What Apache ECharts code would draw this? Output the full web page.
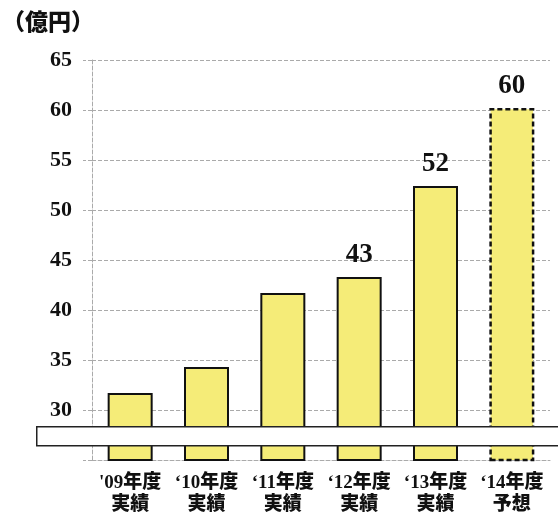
<!DOCTYPE html>
<html>
<head>
<meta charset="utf-8">
<script src="https://cdn.jsdelivr.net/npm/echarts@6/dist/echarts.min.js"></script>
<style>html,body{margin:0;padding:0;background:#fff}#c{width:558px;height:514px}</style>
</head>
<body>
<div id="c"></div>
<script>
var categories = ["'09年度\n実績", "‘10年度\n実績", "‘11年度\n実績", "‘12年度\n実績", "‘13年度\n実績", "‘14年度\n予想"];
var values = [31.7, 34.3, 41.7, 43.3, 52.4, 60.2];
var labelTexts = ["", "", "", "43", "52", "60"];
var forecastFlags = [false, false, false, false, false, true];
var yMin = 25, yMax = 65, yInterval = 5;
var breakRange = [28.4, 26.5];
var unitText = "（億円）";

var serif = "'Liberation Serif','Times New Roman','Noto Serif CJK JP','Noto Sans CJK JP',serif";
var mixed = "'Liberation Serif','Noto Sans CJK JP',serif";
var chart = echarts.init(document.getElementById('c'));
var data = values.map(function (v, i) {
  return {
    value: v,
    itemStyle: forecastFlags[i] ? {borderType: [5, 3], borderWidth: 2.5} : {},
    label: {show: labelTexts[i] !== "", formatter: labelTexts[i]}
  };
});
chart.setOption({
  animation: false,
  title: {text: unitText, left: -3, top: 5, textStyle: {fontSize: 23, fontWeight: 900, color: '#111', fontFamily: "'Noto Sans CJK JP',sans-serif"}},
  grid: {left: 92, right: 8, top: 60, bottom: 54, containLabel: false, outerBoundsMode: 'none'},
  xAxis: {
    type: 'category', data: categories,
    axisLine: {lineStyle: {color: '#aaa', type: 'dashed', width: 1}},
    axisTick: {show: false},
    axisLabel: {color: '#111', fontWeight: 900, fontSize: 19, lineHeight: 22, margin: 12, fontFamily: mixed, interval: 0}
  },
  yAxis: {
    type: 'value', min: yMin, max: yMax, interval: yInterval,
    axisLine: {show: true, lineStyle: {color: '#aaa', type: 'dashed', width: 1}},
    axisTick: {show: true, length: 9, lineStyle: {color: '#aaa', type: 'dashed'}},
    splitLine: {lineStyle: {color: '#aaa', type: 'dashed', width: 1}},
    axisLabel: {color: '#111', fontWeight: 'bold', fontSize: 22, margin: 20, fontFamily: serif,
      formatter: function (v) { return v === yMin ? '' : v; }}
  },
  series: [{
    type: 'bar', data: data, barWidth: 45,
    itemStyle: {color: '#F5EC78', borderColor: '#111', borderWidth: 2},
    label: {position: 'top', distance: 8, color: '#111', fontSize: 27, fontWeight: 'bold', fontFamily: serif}
  }]
});
var yTop = chart.convertToPixel({yAxisIndex: 0}, breakRange[0]);
var yBot = chart.convertToPixel({yAxisIndex: 0}, breakRange[1]);
chart.setOption({
  graphic: [{type: 'rect', left: 36, top: yTop, z: 100,
    shape: {width: 540, height: yBot - yTop},
    style: {fill: '#fff', stroke: '#222', lineWidth: 1.5}}]
});
</script>
</body>
</html>
